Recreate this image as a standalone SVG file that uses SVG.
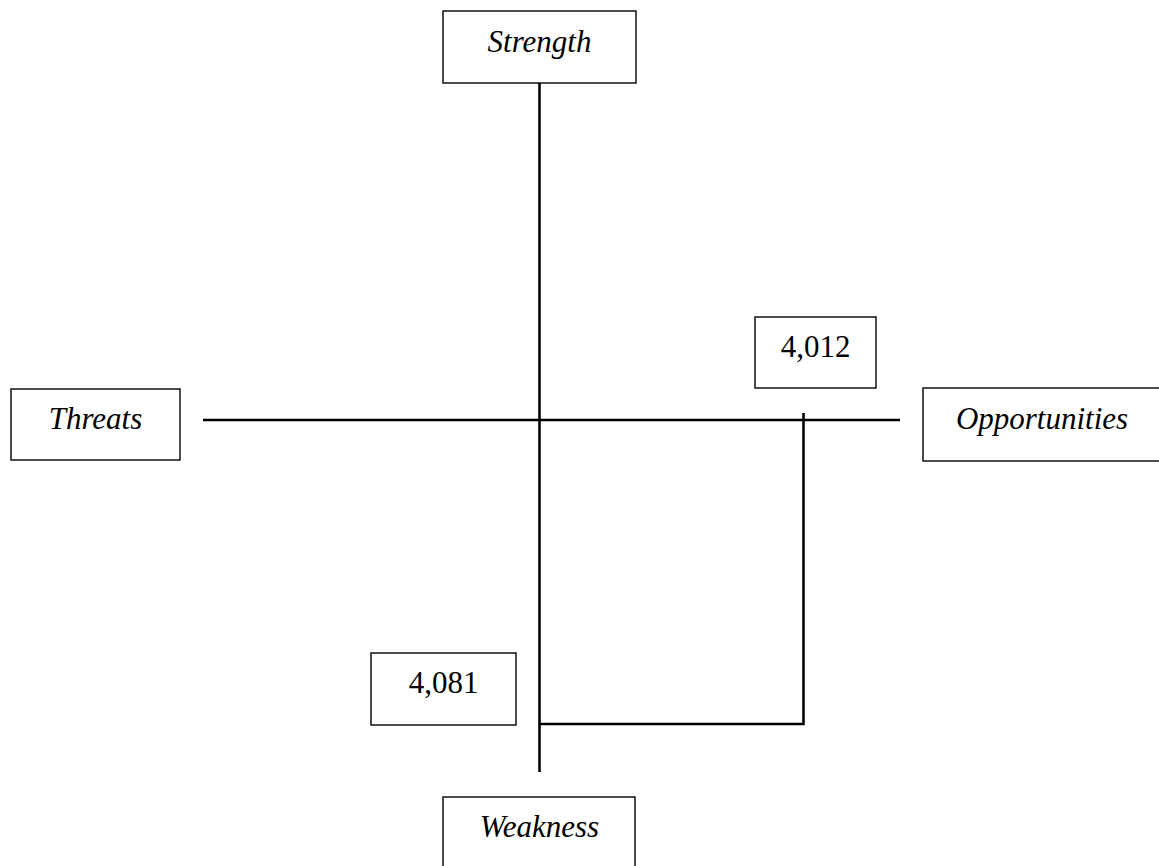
<svg xmlns="http://www.w3.org/2000/svg" width="1159" height="866" viewBox="0 0 1159 866">
<style>
.box{fill:#fff;stroke:#000;stroke-width:1.4}
.lbl{font-family:"Liberation Serif","Times New Roman",serif;font-size:31px;font-style:italic;text-anchor:middle;fill:#000}
.num{font-family:"Liberation Serif","Times New Roman",serif;font-size:31px;text-anchor:middle;fill:#000}
.ln{stroke:#000;stroke-width:2.6;fill:none}
</style>
<rect width="1159" height="866" fill="#fff"/>
<g id="connectors">
<line class="ln" x1="539.5" y1="83" x2="539.5" y2="772"/>
<line class="ln" x1="203" y1="420" x2="900" y2="420"/>
<polyline class="ln" points="803.5,413 803.5,724 539.5,724"/>
</g>
<g id="strength"><rect class="box" x="443" y="11" width="193" height="72"/><text class="lbl" x="539.5" y="52">Strength</text></g>
<g id="threats"><rect class="box" x="11" y="389" width="169" height="71"/><text class="lbl" x="95.5" y="429">Threats</text></g>
<g id="opportunities"><rect class="box" x="923" y="388" width="238" height="73"/><text class="lbl" x="1042" y="429">Opportunities</text></g>
<g id="weakness"><rect class="box" x="443" y="797" width="192" height="80"/><text class="lbl" x="539.5" y="837">Weakness</text></g>
<g id="v4012"><rect class="box" x="755" y="317" width="121" height="71"/><text class="num" x="815.5" y="357">4,012</text></g>
<g id="v4081"><rect class="box" x="371" y="653" width="145" height="72"/><text class="num" x="443.5" y="693">4,081</text></g>
</svg>
